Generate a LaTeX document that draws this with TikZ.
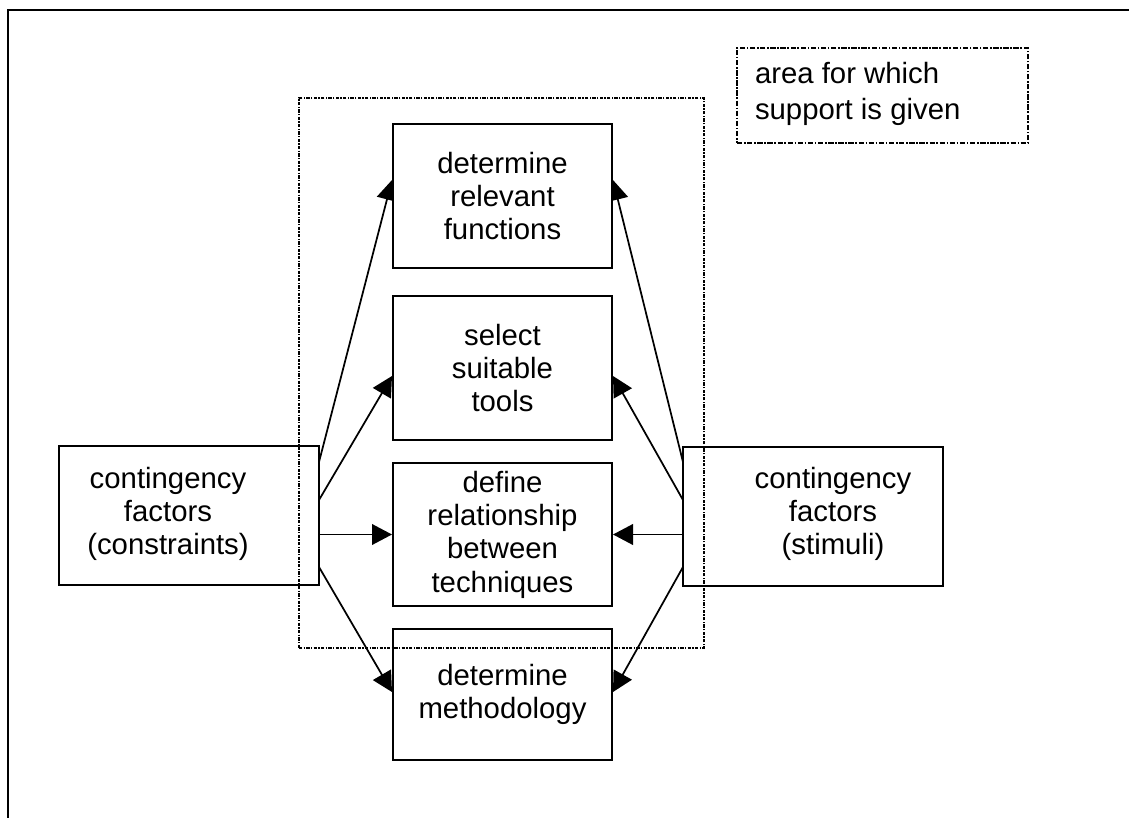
\documentclass[tikz,border=0pt]{standalone}
\usepackage{fontspec}
\setmainfont{Liberation Sans}
\usetikzlibrary{arrows.meta,calc,backgrounds}
\begin{document}
\begin{tikzpicture}[x=0.75pt,y=-0.75pt,
  every node/.style={inner sep=0pt,outer sep=0pt},
  boxfont/.style={font=\fontsize{22pt}{25pt}\selectfont},
  stepbox/.style={draw,line width=1.7pt,fill=white,minimum width=164.25pt,
    align=center,boxfont},
  sidebox/.style={draw,line width=1.7pt,fill=white,minimum width=195pt,
    minimum height=104.25pt},
  boxtext/.style={align=center,boxfont},
  link/.style={line width=1.3pt,-{Triangle[length=15pt,width=15.5pt]}},
  area/.style={draw,line width=0.9pt,dash pattern=on 2.5pt off 1pt on 1pt off 1pt},
  keybox/.style={draw,line width=1.3pt,dash pattern=on 4pt off 1.2pt on 1.2pt off 1.2pt},
]
\useasboundingbox (0,0) rectangle (1129,818);

% page frame
\draw[line width=1.5pt] (8,818) -- (8,10) -- (1129,10);

% activity boxes
\node[stepbox,minimum height=108pt]   (B1) at (502.5,196)   {determine\\relevant\\functions};
\node[stepbox,minimum height=108pt]   (B2) at (502.5,368)   {select\\suitable\\tools};
\node[stepbox,minimum height=107.25pt](B3) at (502.5,534.5) {define\\relationship\\between\\techniques};
\node[stepbox,minimum height=98.25pt] (B4) at (502.5,694.5) {determine\\methodology};

% contingency factor boxes
\node[sidebox] (L) at (189,515.5) {};
\node[boxtext] (Ltext) at (168,514) {contingency\\factors\\(constraints)};
\node[sidebox] (R) at (813,516.5) {};
\node[boxtext] (Rtext) at (833,514) {contingency\\factors\\(stimuli)};

% connectors
\begin{scope}[on background layer]
  \draw[link] ($(L.east)+(0,-53.5)$) -- ($(B1.west)+(-1,-16)$);
  \draw[link] ($(L.east)+(0,-15.5)$) -- ($(B2.west)+(-1,8)$);
  \draw[link] (L.east |- B3.west) -- ($(B3.west)+(-1,0)$);
  \draw[link] ($(L.east)+(0,51.5)$) -- ($(B4.west)+(-1,-2.5)$);
  \draw[link] ($(R.west)+(0,-54.5)$) -- ($(B1.east)+(1,-16)$);
  \draw[link] ($(R.west)+(0,-16.5)$) -- ($(B2.east)+(1,8)$);
  \draw[link] (R.west |- B3.east) -- ($(B3.east)+(1,0)$);
  \draw[link] ($(R.west)+(0,50.5)$) -- ($(B4.east)+(1,-2.5)$);
\end{scope}

% supported area
\node[area,minimum width=303.75pt,minimum height=412.5pt] (support) at (501.5,373) {};

% key
\node[keybox,minimum width=218.25pt,minimum height=71.25pt] (key) at (882.5,95.5) {};
\node[align=left,anchor=west,font=\fontsize{22pt}{26.5pt}\selectfont] (keytext) at (755,94)
  {area for which\\support is given};
\end{tikzpicture}
\end{document}
